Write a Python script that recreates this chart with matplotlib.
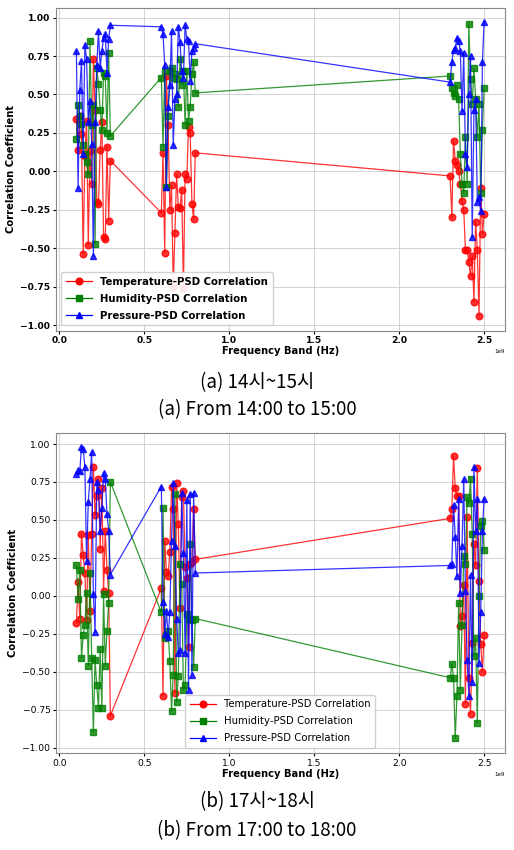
import matplotlib
matplotlib.use("Agg")
import matplotlib.pyplot as plt
import numpy as np

# frequency bands in MHz (converted to Hz when plotting)
freq_mhz = [100, 110, 120, 130, 140, 150, 160, 170, 180, 190, 200,
            210, 220, 230, 240, 250, 260, 270, 280, 290, 300,
            600, 610, 620, 630, 640, 650, 660, 670, 680, 690, 700,
            710, 720, 730, 740, 750, 760, 770, 780, 790, 800,
            2300, 2310, 2320, 2330, 2340, 2350, 2360, 2370, 2380, 2390, 2400,
            2410, 2420, 2430, 2440, 2450, 2460, 2470, 2480, 2490, 2500]

# (a) 14:00 - 15:00
temp_a = [0.34, 0.14, 0.36, 0.24, -0.54, 0.10, 0.33, -0.48, 0.13, -0.08, 0.73,
          0.40, -0.20, -0.21, 0.14, 0.32, -0.43, -0.44, 0.16, -0.32, 0.07,
          -0.27, 0.12, -0.53, 0.62, 0.30, -0.25, -0.09, -0.75, -0.40, -0.02, -0.23,
          -0.24, -0.12, -0.76, -0.02, -0.05, 0.29, 0.25, -0.21, -0.31, 0.12,
          -0.03, -0.30, 0.20, 0.07, 0.04, 0.00, -0.08, -0.19, -0.25, -0.51, -0.51,
          -0.59, -0.68, -0.55, -0.85, -0.33, -0.51, -0.94, -0.11, -0.41, -0.28]
hum_a = [0.21, 0.43, 0.36, 0.31, 0.17, 0.11, 0.06, -0.02, 0.85, 0.30, 0.43,
         -0.47, 0.67, 0.57, 0.40, 0.27, 0.64, 0.62, 0.25, 0.77, 0.23,
         0.61, 0.16, 0.65, -0.10, 0.36, 0.65, 0.67, 0.61, 0.63, 0.60, 0.42,
         0.73, 0.56, 0.65, 0.30, 0.65, 0.33, 0.42, 0.63, 0.71, 0.51,
         0.62, 0.54, 0.51, 0.49, 0.56, 0.47, 0.11, -0.08, -0.14, 0.22, -0.08,
         0.96, 0.60, 0.44, 0.67, 0.47, 0.22, 0.44, -0.14, 0.27, 0.54]
pres_a = [0.78, -0.11, 0.53, 0.72, 0.11, 0.82, 0.73, 0.32, 0.46, 0.18, -0.55,
          0.32, 0.69, 0.91, 0.67, 0.78, 0.87, 0.89, 0.64, 0.86, 0.95,
          0.94, 0.89, 0.69, -0.10, 0.42, 0.56, 0.91, 0.17, 0.47, 0.50, 0.94,
          0.84, 0.65, 0.61, 0.95, 0.86, 0.85, 0.59, 0.78, 0.80, 0.83,
          0.58, 0.71, 0.79, 0.80, 0.87, 0.85, 0.78, 0.39, 0.77, 0.11, 0.03,
          0.50, 0.75, -0.43, 0.40, 0.47, -0.20, -0.17, -0.26, 0.71, 0.97]

# (b) 17:00 - 18:00
temp_b = [-0.18, 0.09, -0.15, 0.41, 0.27, 0.15, -0.16, 0.40, -0.10, 0.41, 0.85,
          0.53, 0.66, 0.77, 0.31, 0.71, 0.03, 0.43, 0.17, 0.02, -0.79,
          0.05, -0.66, 0.36, 0.16, 0.13, 0.29, 0.72, 0.57, -0.64, 0.74, 0.47,
          -0.08, 0.65, 0.69, 0.19, 0.12, -0.34, 0.21, 0.22, 0.57, 0.24,
          0.51, 0.57, 0.92, 0.71, 0.66, 0.66, -0.20, -0.13, 0.07, -0.71, 0.52,
          -0.54, -0.78, -0.31, 0.34, 0.20, 0.84, 0.10, -0.32, -0.50, -0.26]
hum_b = [0.20, -0.02, 0.17, -0.41, -0.26, -0.19, 0.02, -0.46, 0.15, -0.41, -0.90,
         -0.42, -0.59, -0.74, -0.35, -0.74, 0.01, -0.46, -0.23, -0.05, 0.75,
         -0.11, 0.58, -0.28, -0.26, -0.23, -0.43, -0.76, -0.52, 0.67, -0.70, -0.53,
         0.21, 0.08, -0.62, -0.59, -0.12, -0.15, 0.34, -0.16, -0.47, -0.15,
         -0.54, -0.45, -0.54, -0.94, -0.66, -0.05, -0.62, -0.19, 0.26, 0.21, 0.65,
         0.61, 0.77, 0.41, -0.40, -0.28, -0.84, 0.00, 0.46, 0.49, 0.30]
pres_b = [0.80, 0.83, 0.82, 0.98, 0.97, 0.85, 0.23, 0.62, 0.77, 0.95, 0.01,
          -0.24, 0.75, 0.70, 0.43, 0.58, 0.81, 0.77, 0.54, 0.43, 0.14,
          0.72, -0.04, -0.25, -0.10, -0.27, -0.11, 0.36, 0.74, 0.33, -0.15, -0.38,
          -0.36, 0.68, 0.28, -0.38, 0.63, -0.62, 0.67, -0.52, 0.68, 0.15,
          0.20, 0.21, 0.60, 0.39, 0.13, 0.64, 0.02, 0.33, 0.77, 0.03, -0.42,
          -0.66, 0.14, -0.57, 0.85, 0.43, 0.64, -0.44, -0.11, 0.43, 0.64]

labels = ["Temperature-PSD Correlation", "Humidity-PSD Correlation", "Pressure-PSD Correlation"]
captions = [["(a) 14시~15시", "(a) From 14:00 to 15:00"],
            ["(b) 17시~18시", "(b) From 17:00 to 18:00"]]

freq = np.array(freq_mhz) * 1e6

fig = plt.figure(figsize=(5.14, 8.5), dpi=100)
ax1 = fig.add_axes([56 / 514, 1 - 330.5 / 850, 448.5 / 514, 323 / 850])
ax2 = fig.add_axes([56 / 514, 1 - 753 / 850, 448.5 / 514, 320.5 / 850])


def draw_panel(ax, series, bold, legend_loc):
    colors = ["red", "green", "blue"]
    markers = ["o", "s", "^"]
    for vals, c, m, lab in zip(series, colors, markers, labels):
        ax.plot(freq, vals, color=c, marker=m, markersize=4.8, linewidth=0.9,
                alpha=0.8, label=lab)
    ax.grid(True, color="#cccccc", linewidth=0.6)
    ax.set_axisbelow(True)
    for sp in ax.spines.values():
        sp.set_color("#888888")
    w = "bold" if bold else "normal"
    ax.set_xlabel("Frequency Band (Hz)", fontsize=7.2, fontweight="bold", labelpad=1)
    ax.set_ylabel("Correlation Coefficient", fontsize=7.2, fontweight="bold", labelpad=3)
    ax.tick_params(labelsize=6.6, length=2.5, pad=1.5)
    for t in ax.get_xticklabels() + ax.get_yticklabels():
        t.set_fontweight(w)
    ax.set_yticks([-1.0, -0.75, -0.5, -0.25, 0.0, 0.25, 0.5, 0.75, 1.0])
    ax.xaxis.get_offset_text().set_fontsize(4)
    leg = ax.legend(loc=legend_loc, prop={"size": 7.3, "weight": w},
                    handlelength=2.6, borderpad=0.45, labelspacing=0.7, framealpha=0.9)
    for lh in leg.get_lines():
        lh.set_alpha(1)


draw_panel(ax1, [temp_a, hum_a, pres_a], True, "lower left")
draw_panel(ax2, [temp_b, hum_b, pres_b], False, "lower center")

cap_font = ["Noto Sans CJK KR", "DejaVu Sans"]
fig.text(0.5, 1 - 383 / 850, captions[0][0], ha="center", va="center", fontsize=13.5, family=cap_font)
fig.text(0.5, 1 - 410 / 850, captions[0][1], ha="center", va="center", fontsize=13.5, family=cap_font)
fig.text(0.5, 1 - 802 / 850, captions[1][0], ha="center", va="center", fontsize=13.5, family=cap_font)
fig.text(0.5, 1 - 831 / 850, captions[1][1], ha="center", va="center", fontsize=13.5, family=cap_font)

fig.savefig("out.png", dpi=100)
